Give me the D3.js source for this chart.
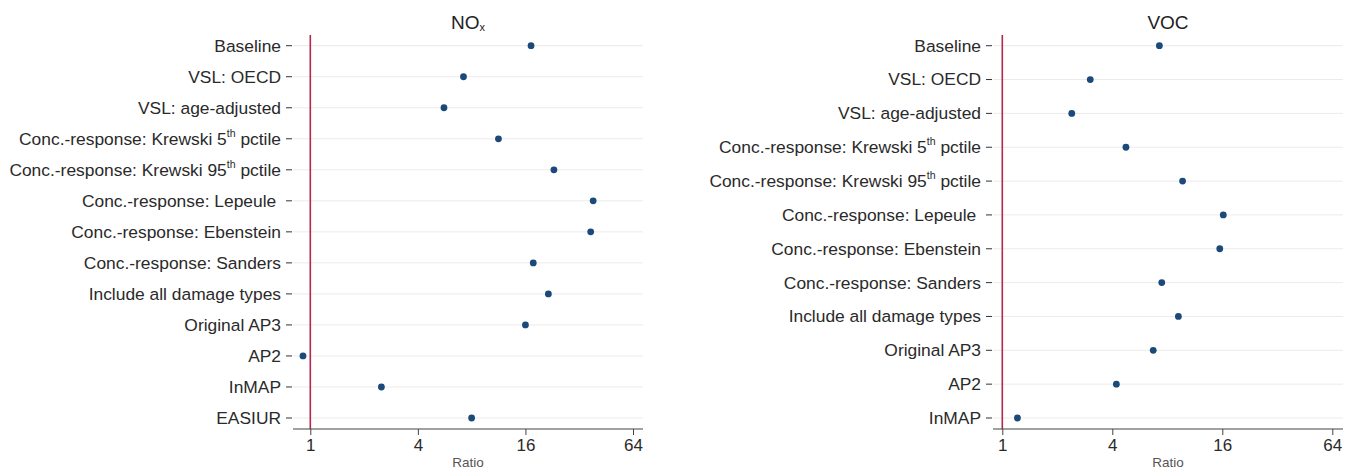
<!DOCTYPE html>
<html>
<head>
<meta charset="utf-8">
<script src="https://cdn.jsdelivr.net/npm/d3@7"></script>
<style>
  body { margin: 0; background: #fff; }
  text { font-family: "Liberation Sans", Arial, sans-serif; }
</style>
</head>
<body>
<div id="chart"></div>
<script>
// Scenario labels (sup = superscript suffix, tail = text after it)
const noxLabels = [
  { t: "Baseline" },
  { t: "VSL: OECD" },
  { t: "VSL: age-adjusted" },
  { t: "Conc.-response: Krewski 5", sup: "th", tail: " pctile" },
  { t: "Conc.-response: Krewski 95", sup: "th", tail: " pctile" },
  { t: "Conc.-response: Lepeule\u00A0" },
  { t: "Conc.-response: Ebenstein" },
  { t: "Conc.-response: Sanders" },
  { t: "Include all damage types" },
  { t: "Original AP3" },
  { t: "AP2" },
  { t: "InMAP" },
  { t: "EASIUR" }
];
const vocLabels = noxLabels.slice(0, 12);

// Ratios
const noxValues = [17.2, 7.2, 5.6, 11.3, 23.1, 38.3, 37.1, 17.7, 21.5, 16.0, 0.91, 2.5, 8.0];
const vocValues = [7.24, 3.03, 2.40, 4.75, 9.7, 16.2, 15.5, 7.46, 9.2, 6.7, 4.21, 1.21];

const xTicks = [1, 4, 16, 64];

const W = 1353, H = 471;
const svg = d3.select("#chart").append("svg")
  .attr("width", W).attr("height", H);

const panels = [
  { title: "NO", sub: "x", labels: noxLabels, values: noxValues,
    range: [310.3, 633], bounds: [293, 643], labelX: 281 },
  { title: "VOC", sub: null, labels: vocLabels, values: vocValues,
    range: [1002.3, 1332.3], bounds: [993, 1343], labelX: 981 }
];

const axisY = 429;

panels.forEach(p => {
  const g = svg.append("g");
  const x = d3.scaleLog().base(2).domain([1, 64]).range(p.range);
  const y = d3.scalePoint()
    .domain(p.labels.map((d, i) => i))
    .range([45.7, 418]);
  const cx = (p.bounds[0] + p.bounds[1]) / 2;

  // gridlines
  g.selectAll(".grid").data(p.labels).enter().append("line")
    .attr("x1", p.bounds[0]).attr("x2", p.bounds[1])
    .attr("y1", (d, i) => y(i)).attr("y2", (d, i) => y(i))
    .attr("stroke", "#ebebeb").attr("stroke-width", 1);

  // y tick marks
  g.selectAll(".ytick").data(p.labels).enter().append("line")
    .attr("x1", p.labelX + 5).attr("x2", p.labelX + 11)
    .attr("y1", (d, i) => y(i)).attr("y2", (d, i) => y(i))
    .attr("stroke", "#333").attr("stroke-width", 1);

  // y labels (slightly wide lettering, as in the original)
  const lab = g.selectAll(".ylab").data(p.labels).enter().append("text")
    .attr("transform", (d, i) => `translate(${p.labelX},${y(i)}) scale(1.055,1)`)
    .attr("dy", "0.36em")
    .attr("text-anchor", "end")
    .attr("font-size", 16.5)
    .attr("fill", "#2a2a2a");
  lab.append("tspan").text(d => d.t);
  lab.filter(d => d.sup).append("tspan")
    .attr("font-size", 10).attr("dy", "-0.8em").text(d => d.sup);
  lab.filter(d => d.sup).append("tspan")
    .attr("dy", "0.48em").text(d => d.tail);

  // reference line at ratio 1
  g.append("line")
    .attr("x1", x(1)).attr("x2", x(1))
    .attr("y1", 35).attr("y2", axisY)
    .attr("stroke", "#b8264e").attr("stroke-width", 1.6);

  // x axis
  const ax = g.append("g").attr("transform", `translate(0,${axisY})`)
    .call(d3.axisBottom(x).tickValues(xTicks).tickFormat(d3.format("d"))
      .tickSize(6).tickSizeOuter(0));
  ax.select(".domain").remove();
  ax.append("line").attr("x1", p.bounds[0]).attr("x2", p.bounds[1])
    .attr("stroke", "#444").attr("stroke-width", 1.2);
  ax.selectAll(".tick line").attr("stroke", "#444");
  ax.selectAll(".tick text")
    .attr("font-size", 17).attr("fill", "#2a2a2a")
    .attr("font-family", "Liberation Sans, Arial, sans-serif")
    .attr("y", 10);

  g.append("text")
    .attr("x", cx).attr("y", 467)
    .attr("text-anchor", "middle")
    .attr("font-size", 13.5).attr("fill", "#555")
    .text("Ratio");

  // title
  const t = g.append("text")
    .attr("x", cx).attr("y", 29)
    .attr("text-anchor", "middle")
    .attr("font-size", 19).attr("fill", "#222");
  t.append("tspan").text(p.title);
  if (p.sub) t.append("tspan").attr("font-size", 11).attr("dy", "0.2em").text(p.sub);

  // points
  g.selectAll(".dot").data(p.values).enter().append("circle")
    .attr("cx", d => x(d)).attr("cy", (d, i) => y(i))
    .attr("r", 3.4).attr("fill", "#1b4a7a");
});
</script>
</body>
</html>
